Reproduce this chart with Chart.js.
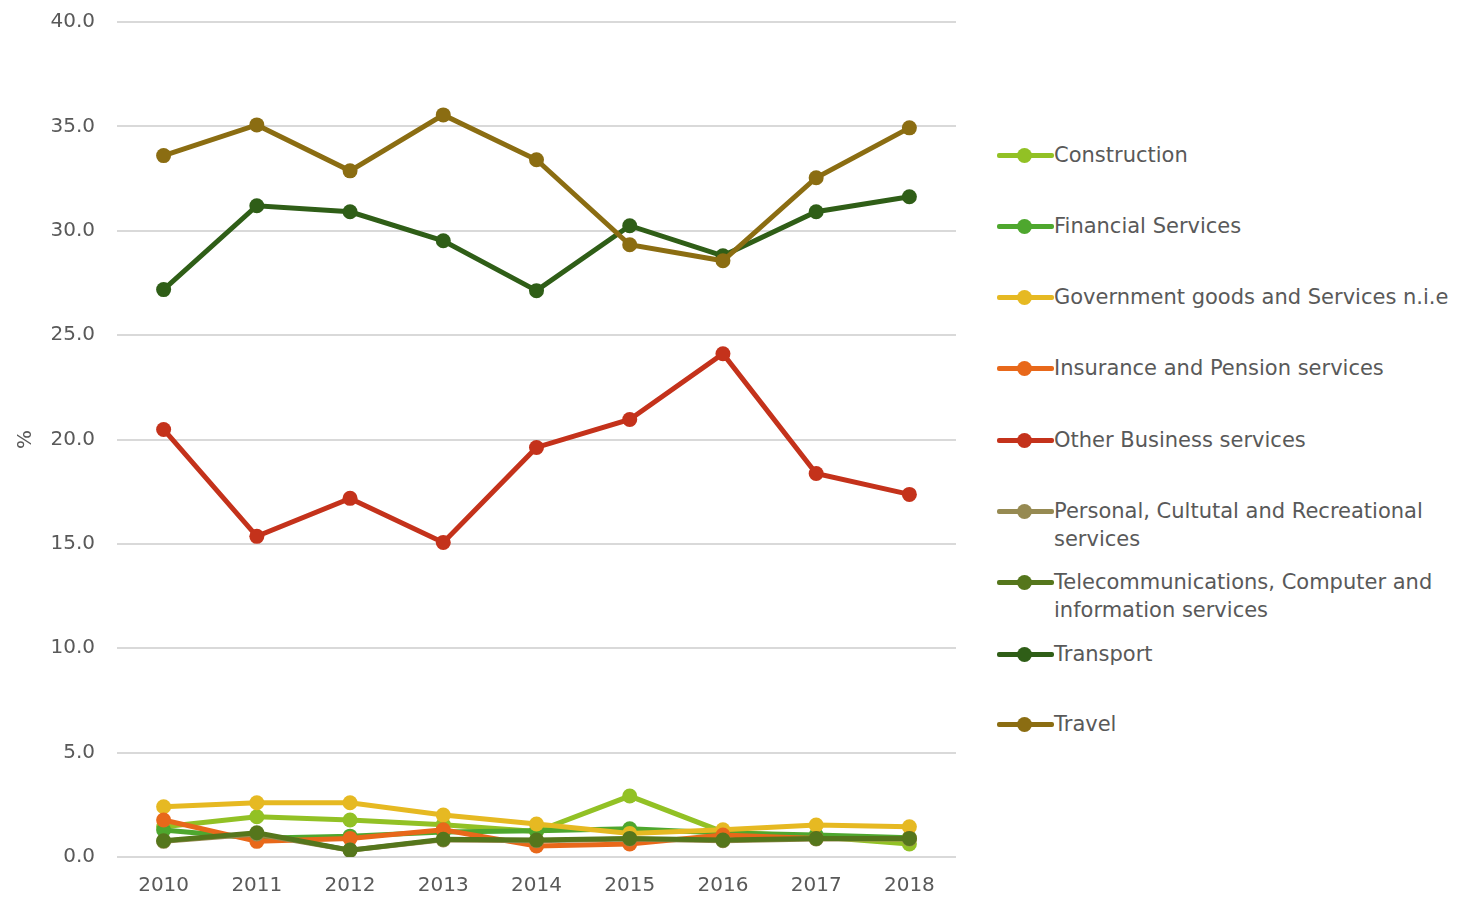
<!DOCTYPE html>
<html><head><meta charset="utf-8">
<script src="https://cdn.jsdelivr.net/npm/chart.js@4.4.0/dist/chart.umd.min.js"></script>
<style>
html,body{margin:0;padding:0;background:#fff;width:1458px;height:901px;overflow:hidden;font-family:"DejaVu Sans",sans-serif;}
#wrap{position:absolute;left:0;top:-12px;width:975px;height:913px;}
#legend{position:absolute;left:997px;top:0;width:461px;}
.item{position:absolute;left:0;display:flex;align-items:flex-start;color:#595959;font-size:21px;line-height:28px;}
.sw{position:relative;width:57px;height:28px;flex:none;}
.sw .ln{position:absolute;left:0;top:12px;width:57px;height:5px;border-radius:2px;}
.sw .dt{position:absolute;left:20px;top:7px;width:15px;height:15px;border-radius:50%;}
.tx{white-space:nowrap;}
</style></head>
<body>
<div id="wrap"><canvas id="c" width="975" height="913"></canvas></div>
<div id="legend"></div>
<script>
const years = ["2010","2011","2012","2013","2014","2015","2016","2017","2018"];
const construction = [1.45,1.93,1.77,1.55,1.22,2.92,1.2,0.97,0.62];
const financial = [1.29,0.9,1.0,1.2,1.26,1.35,1.15,1.05,0.92];
const government = [2.41,2.6,2.6,2.01,1.58,1.13,1.3,1.53,1.45];
const insurance = [1.77,0.75,0.89,1.3,0.53,0.62,1.05,0.89,0.89];
const otherBusiness = [20.48,15.36,17.18,15.07,19.62,20.96,24.11,18.37,17.37];
const personal = [0.75,1.1,0.33,0.82,0.78,0.86,0.78,0.86,0.86];
const telecom = [0.78,1.16,0.33,0.85,0.81,0.89,0.81,0.89,0.89];
const transport = [27.18,31.2,30.91,29.52,27.13,30.24,28.8,30.91,31.63];
const travel = [33.6,35.07,32.87,35.55,33.4,29.33,28.56,32.54,34.93];
const yTicks = [0,5,10,15,20,25,30,35,40];

const series = [
  {label:"Construction", data:construction, color:"#92c125"},
  {label:"Financial Services", data:financial, color:"#4ea72e"},
  {label:"Government goods and Services n.i.e", data:government, color:"#e6b922"},
  {label:"Insurance and Pension services", data:insurance, color:"#e8681a"},
  {label:"Other Business services", data:otherBusiness, color:"#c4321b"},
  {label:"Personal, Cultutal and Recreational\nservices", data:personal, color:"#968a52"},
  {label:"Telecommunications, Computer and\ninformation services", data:telecom, color:"#55761c"},
  {label:"Transport", data:transport, color:"#2f5e17"},
  {label:"Travel", data:travel, color:"#8b6d12"}
];

const chart = new Chart(document.getElementById('c'), {
  type:'line',
  data:{labels:years, datasets:series.map((s,i)=>({label:s.label,data:s.data,borderColor:s.color,backgroundColor:s.color,
    order:series.length-i,
    borderWidth:5,pointRadius:7.5,pointHoverRadius:7.5,pointBorderWidth:0,tension:0}))},
  options:{
    responsive:false,animation:false,
    layout:{padding:{top:0,left:14,right:19,bottom:0}},
    plugins:{legend:{display:false},tooltip:{enabled:false}},
    scales:{
      x:{offset:true,grid:{display:false,drawTicks:false},border:{display:false},
        ticks:{color:'#595959',font:{family:'DejaVu Sans',size:20},padding:17,maxRotation:0},
        afterFit:(s)=>{s.height=44;}},
      y:{min:0,max:40,afterBuildTicks:(s)=>{s.ticks=yTicks.map(v=>({value:v}));},
        grid:{color:'#d9d9d9',lineWidth:2,drawTicks:false},border:{display:false},
        ticks:{color:'#595959',font:{family:'DejaVu Sans',size:20},padding:22,callback:(v)=>Number(v).toFixed(1)},
        title:{display:true,text:'%',color:'#595959',font:{family:'DejaVu Sans',size:20},padding:0},
        afterFit:(s)=>{s.width=103;}}
    }
  }
});

const leg = document.getElementById('legend');
const tops = [141,212,283,354,426,497,568,640,710];
series.forEach((s,i)=>{
  const d=document.createElement('div');d.className='item';d.style.top=tops[i]+'px';
  d.innerHTML='<div class="sw"><div class="ln" style="background:'+s.color+'"></div><div class="dt" style="background:'+s.color+'"></div></div><div class="tx">'+s.label.replace('\n','<br>')+'</div>';
  leg.appendChild(d);
});
</script>
</body></html>
